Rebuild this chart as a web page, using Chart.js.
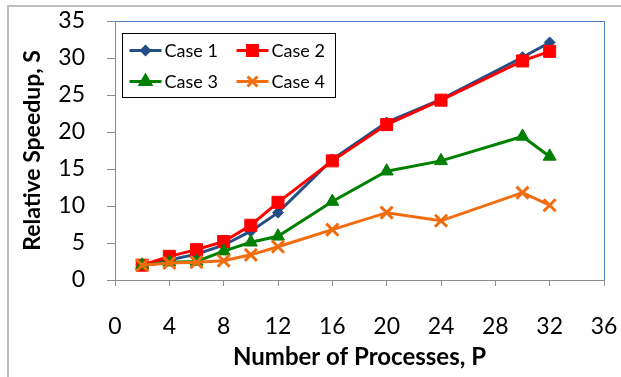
<!DOCTYPE html>
<html>
<head>
<meta charset="utf-8">
<script src="https://cdn.jsdelivr.net/npm/chart.js@4"></script>
<style>
  html, body { margin: 0; padding: 0; background: #fff; }
  #wrap { position: relative; width: 621px; height: 377px; overflow: hidden; }
  #frame { position: absolute; left: 7px; top: 5px; width: 640px; height: 400px; border-left: 2px solid #c0c0c0; border-top: 2px solid #c0c0c0; box-sizing: border-box; pointer-events: none; }
</style>
</head>
<body>
<div id="wrap">
  <canvas id="speedupChart" width="621" height="377"></canvas>
  <div id="frame"></div>
</div>
<script>
// Relative speedup vs number of processes
const processes = [2, 4, 6, 8, 10, 12, 16, 20, 24, 30, 32];
const case1 = [2.0, 2.7, 3.5, 4.7, 6.6, 9.1, 16.3, 21.3, 24.4, 30.1, 32.1];
const case2 = [2.0, 3.2, 4.1, 5.2, 7.4, 10.5, 16.1, 21.0, 24.3, 29.6, 30.9];
const case3 = [2.0, 2.4, 2.5, 3.9, 5.1, 5.9, 10.6, 14.7, 16.1, 19.4, 16.7];
const case4 = [2.0, 2.3, 2.4, 2.6, 3.4, 4.5, 6.8, 9.1, 8.0, 11.8, 10.1];
const caseLabels = ["Case 1", "Case 2", "Case 3", "Case 4"];
const xTicks = [0, 4, 8, 12, 16, 20, 24, 28, 32, 36];
const yTicks = [0, 5, 10, 15, 20, 25, 30, 35];

const FONT = "Lato, 'Open Sans', sans-serif";

const seriesStyle = [
  { color: "#254e87", point: "rectRot", radius: 5.5, border: 1 },
  { color: "#ff0000", point: "rect", radius: 8.5, border: 1 },
  { color: "#008000", point: "triangle", radius: 7.5, border: 1 },
  { color: "#f26d10", point: "crossRot", radius: 8.5, border: 3 },
];

const toPoints = (ys) => processes.map((x, i) => ({ x, y: ys[i] }));

const datasets = [case1, case2, case3, case4].map((ys, i) => ({
  label: caseLabels[i],
  data: toPoints(ys),
  order: 4 - i, // later cases drawn on top, like the original
  borderColor: seriesStyle[i].color,
  backgroundColor: seriesStyle[i].color,
  pointBorderColor: seriesStyle[i].color,
  pointBackgroundColor: seriesStyle[i].color,
  pointStyle: seriesStyle[i].point,
  pointRadius: seriesStyle[i].radius,
  pointBorderWidth: seriesStyle[i].border,
  borderWidth: 3,
  tension: 0,
}));

/**
 * Draws the blue plot frame and the in-plot legend box
 */
const plotDecor = {
  id: "plotDecor",
  beforeDatasetsDraw(chart) {
    const { ctx, chartArea: a } = chart;
    ctx.save();
    ctx.strokeStyle = "#4f81bd";
    ctx.lineWidth = 1;
    ctx.beginPath();
    ctx.moveTo(a.left, a.top + 0.5);
    ctx.lineTo(a.right + 0.5, a.top + 0.5);
    ctx.lineTo(a.right + 0.5, a.bottom);
    ctx.stroke();
    ctx.restore();
  },
  afterDraw(chart) {
    const { ctx } = chart;
    const box = { x: 122.5, y: 33.5, w: 213, h: 64 };
    ctx.save();
    ctx.fillStyle = "#fff";
    ctx.fillRect(box.x, box.y, box.w, box.h);
    ctx.strokeStyle = "#000";
    ctx.lineWidth = 1;
    ctx.strokeRect(box.x, box.y, box.w, box.h);
    ctx.font = "18px " + FONT;
    ctx.textBaseline = "middle";
    chart.data.datasets.forEach((ds, i) => {
      const col = i % 2;
      const row = Math.floor(i / 2);
      const lx = box.x + 7 + col * 107;
      const ly = box.y + 17 + row * 31;
      ctx.strokeStyle = ds.borderColor;
      ctx.lineWidth = 3;
      ctx.beginPath();
      ctx.moveTo(lx, ly);
      ctx.lineTo(lx + 32, ly);
      ctx.stroke();
      ctx.fillStyle = ds.borderColor;
      Chart.helpers.drawPoint(ctx, {
        pointStyle: ds.pointStyle,
        radius: ds.pointRadius - 1.5,
        borderWidth: ds.pointBorderWidth,
      }, lx + 16, ly);
      ctx.fillStyle = "#000";
      ctx.fillText(ds.label, lx + 35, ly + 1);
    });
    ctx.restore();
  },
};

const ctx = document.getElementById("speedupChart").getContext("2d");

new Chart(ctx, {
  type: "line",
  data: { datasets },
  plugins: [plotDecor],
  options: {
    responsive: false,
    animation: false,
    layout: { padding: { left: 19, top: 21, right: 17, bottom: 5 } },
    plugins: {
      legend: { display: false },
      tooltip: { enabled: false },
    },
    scales: {
      x: {
        type: "linear",
        min: 0,
        max: 36,
        afterBuildTicks: (axis) => { axis.ticks = xTicks.map((v) => ({ value: v })); },
        afterFit: (axis) => {
          axis.height = 92;
          axis.paddingLeft = 0;
          axis.paddingRight = 0;
        },
        grid: { drawOnChartArea: false, color: "#8c8c8c", tickLength: 6 },
        border: { color: "#8c8c8c", width: 1 },
        ticks: { color: "#000", font: { family: FONT, size: 23 }, padding: 27, maxRotation: 0 },
        title: {
          display: true,
          text: "Number of Processes, P",
          color: "#000",
          font: { family: FONT, size: 24, weight: "bold" },
          padding: 0,
        },
      },
      y: {
        type: "linear",
        min: 0,
        max: 35,
        afterBuildTicks: (axis) => { axis.ticks = yTicks.map((v) => ({ value: v })); },
        afterFit: (axis) => {
          axis.width = 96;
          axis.paddingTop = 0;
          axis.paddingBottom = 0;
        },
        grid: { drawOnChartArea: false, color: "#8c8c8c", tickLength: 8 },
        border: { color: "#8c8c8c", width: 1 },
        ticks: { color: "#000", font: { family: FONT, size: 23 }, padding: 22 },
        title: {
          display: true,
          text: "Relative Speedup, S",
          color: "#000",
          font: { family: FONT, size: 23, weight: "bold" },
          padding: 0,
        },
      },
    },
  },
});
</script>
</body>
</html>
